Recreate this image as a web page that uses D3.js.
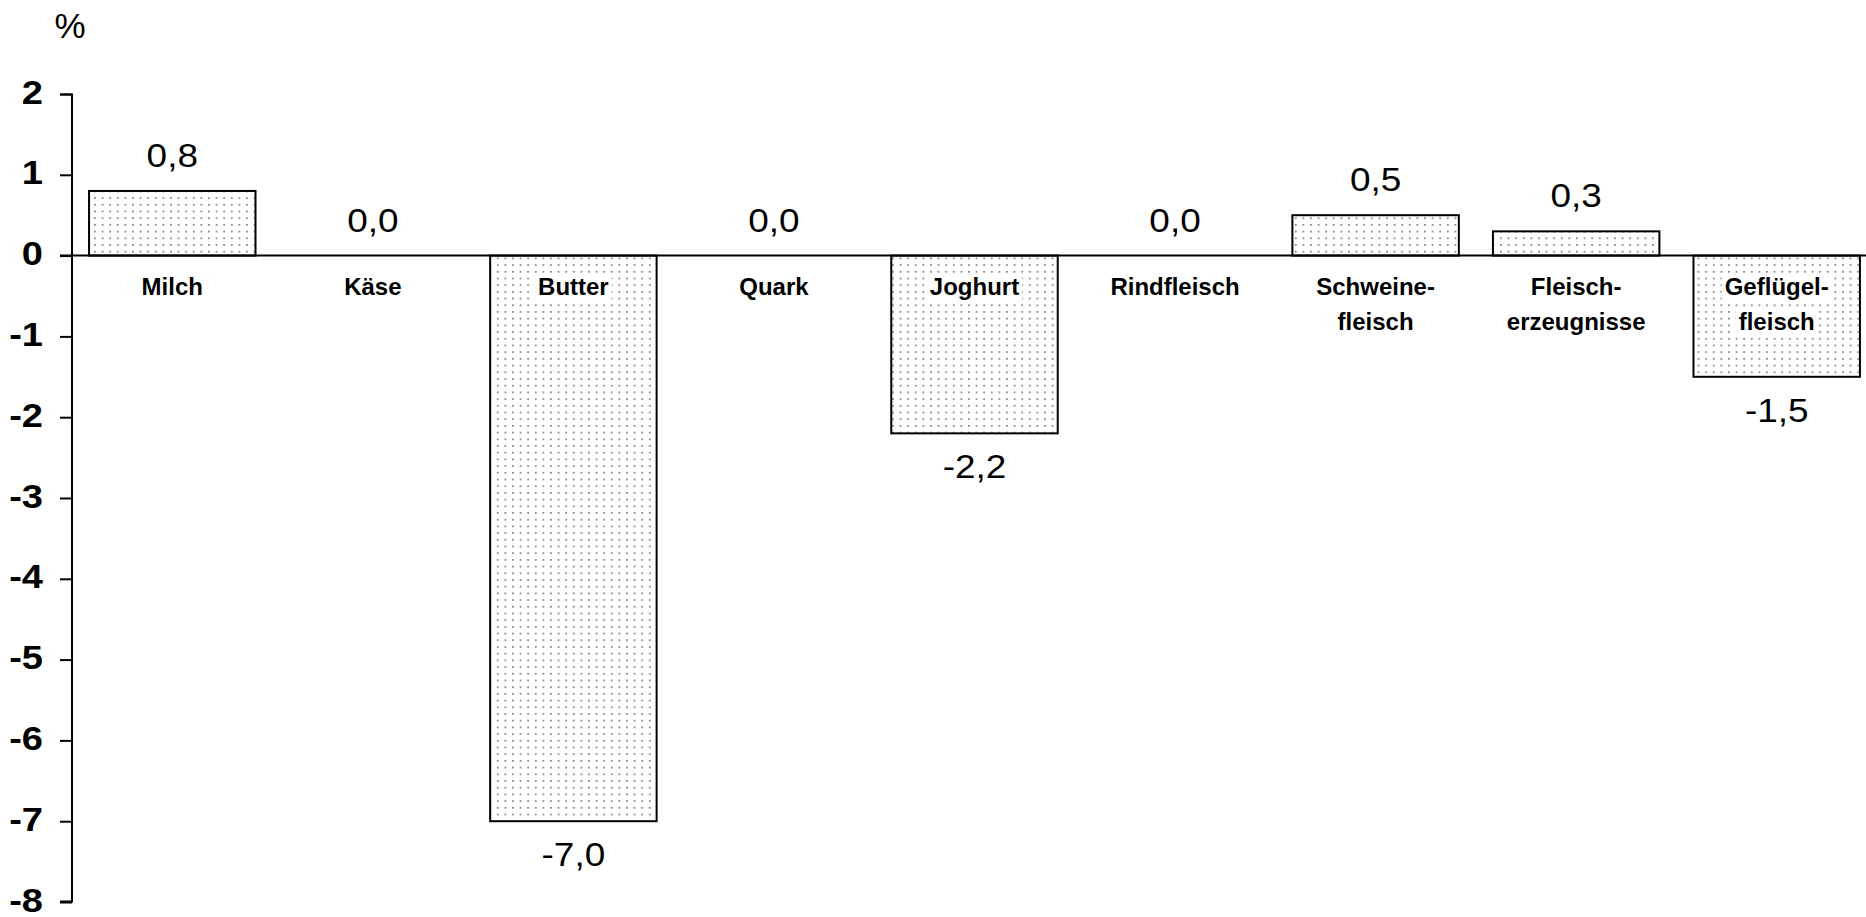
<!DOCTYPE html>
<html>
<head>
<meta charset="utf-8">
<script src="https://cdn.jsdelivr.net/npm/d3@7"></script>
<style>
  html, body { margin: 0; padding: 0; background: #fff; }
  svg { display: block; }
  text { font-family: "Liberation Sans", Arial, sans-serif; }
</style>
</head>
<body>
<svg id="chart" width="1866" height="917"></svg>
<script>
// ---- data ----
const categories = [
  ["Milch"],
  ["Käse"],
  ["Butter"],
  ["Quark"],
  ["Joghurt"],
  ["Rindfleisch"],
  ["Schweine-", "fleisch"],
  ["Fleisch-", "erzeugnisse"],
  ["Geflügel-", "fleisch"]
];
const values = [0.8, 0.0, -7.0, 0.0, -2.2, 0.0, 0.5, 0.3, -1.5];
const valueLabels = ["0,8", "0,0", "-7,0", "0,0", "-2,2", "0,0", "0,5", "0,3", "-1,5"];
const yTicks = [2, 1, 0, -1, -2, -3, -4, -5, -6, -7, -8];
const unitLabel = "%";

// ---- chart ----
const svg = d3.select("#chart");
const keys = categories.map((c, i) => i);

const x = d3.scaleBand().domain(keys).range([72, 1877]).paddingInner(0.17).paddingOuter(0.085);
const y = d3.scaleLinear().domain([-8, 2]).range([902, 94]);

// dotted pattern
const defs = svg.append("defs");
const pat = defs.append("pattern")
  .attr("id", "dots").attr("patternUnits", "userSpaceOnUse")
  .attr("width", 7.6).attr("height", 6.7);
pat.append("rect").attr("width", 7.6).attr("height", 6.7).attr("fill", "#fff");
pat.append("rect").attr("x", 3).attr("y", 3).attr("width", 1.5).attr("height", 1.5).attr("fill", "#5a5a5a");

// bars
svg.append("g").selectAll("rect")
  .data(values.map((v, i) => ({v, i})).filter(d => d.v !== 0))
  .join("rect")
  .attr("x", d => x(d.i))
  .attr("width", x.bandwidth())
  .attr("y", d => y(Math.max(0, d.v)))
  .attr("height", d => Math.abs(y(d.v) - y(0)))
  .attr("fill", "url(#dots)")
  .attr("stroke", "#000")
  .attr("stroke-width", 2);

// y axis
const yAxis = d3.axisLeft(y).tickValues(yTicks).tickSize(12).tickPadding(17)
  .tickFormat(d => d3.format("d")(d).replace("−", "-"));
const gy = svg.append("g").attr("transform", "translate(72,0)").call(yAxis);
gy.select(".domain").attr("stroke", "#000").attr("stroke-width", 2).attr("d", "M-12,94.5H0V901.5H-12");
gy.selectAll(".tick line").attr("stroke", "#000").attr("stroke-width", 2);
gy.selectAll(".tick text")
  .attr("font-size", 34).attr("font-weight", "bold").attr("fill", "#000")
  .attr("font-family", "'Liberation Sans', Arial, sans-serif")
  .attr("dy", "0.27em")
  .attr("transform", "translate(-29,0) scale(1.12,1) translate(29,0)");

// zero line
svg.append("line")
  .attr("x1", 60).attr("x2", 1866)
  .attr("y1", y(0)).attr("y2", y(0))
  .attr("stroke", "#000").attr("stroke-width", 2);

// category labels with white background
const catG = svg.append("g");
categories.forEach((lines, i) => {
  const cx = x(i) + x.bandwidth() / 2;
  lines.forEach((ln, j) => {
    const g = catG.append("g");
    const t = g.append("text")
      .attr("x", cx).attr("y", 295 + j * 35)
      .attr("text-anchor", "middle")
      .attr("font-size", 24).attr("font-weight", "bold").attr("fill", "#000")
      .text(ln);
    const bb = t.node().getBBox();
    g.insert("rect", "text")
      .attr("x", bb.x - 3).attr("y", bb.y + 1)
      .attr("width", bb.width + 6).attr("height", bb.height + 1)
      .attr("fill", "#fff");
  });
});

// value labels
svg.append("g").selectAll("text")
  .data(values.map((v, i) => ({v, i})))
  .join("text")
  .attr("transform", d => `translate(${x(d.i) + x.bandwidth() / 2},${d.v >= 0 ? y(d.v) - 24 : y(d.v) + 45}) scale(1.12,1)`)
  .attr("text-anchor", "middle")
  .attr("font-size", 33).attr("fill", "#000")
  .text(d => valueLabels[d.i]);

// unit label
svg.append("text")
  .attr("x", 70).attr("y", 38)
  .attr("text-anchor", "middle")
  .attr("font-size", 35).attr("fill", "#000")
  .text(unitLabel);
</script>
</body>
</html>
